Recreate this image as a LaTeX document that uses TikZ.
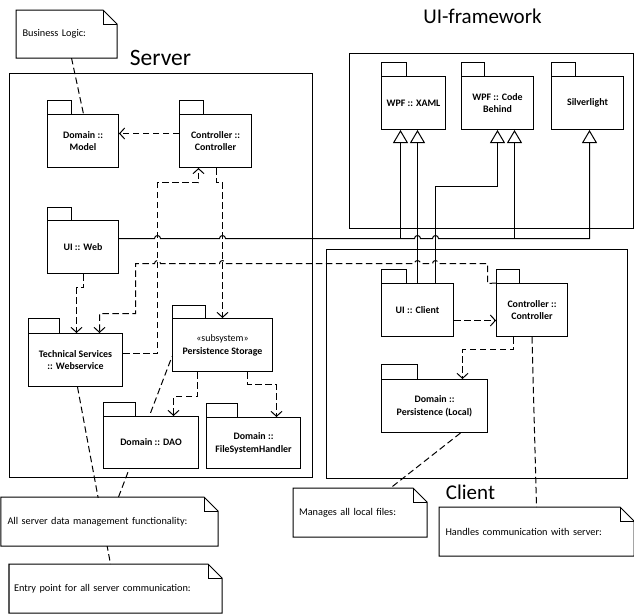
\documentclass[tikz,border=0pt]{standalone}
\usepackage{fontspec}
\setmainfont{Carlito}
\usetikzlibrary{arrows.meta,backgrounds,calc}
\newcommand\notedraw[1]{%
  \draw[noteline] (#1.north west) -- ([xshift=-14pt]#1.north east) -- ([yshift=-14pt]#1.north east) -- (#1.south east) -- (#1.south west) -- cycle;
  \draw[noteline] ([xshift=-14pt]#1.north east) |- ([yshift=-14pt]#1.north east);}
\begin{document}
\begin{tikzpicture}[x=1pt,y=-1pt,
  every path/.style={line width=1pt},
  pkg/.style={draw, fill=white, inner sep=0pt, align=center, font=\bfseries\fontsize{9.9}{12.8}\selectfont},
  tabbox/.style={draw, fill=white},
  frame/.style={draw, inner sep=0pt},
  title/.style={font=\fontsize{21}{24}\selectfont},
  note/.style={fill=white, inner sep=0pt, align=left, font=\fontsize{10.3}{12}\selectfont},
  noteline/.style={draw},
  dashline/.style={dash pattern=on 6.5pt off 3.5pt},
  dep/.style={dashline, -{Straight Barb[length=5pt,width=11pt]}},
  real/.style={-{Triangle[open,length=13pt,width=15pt]}},
]
\useasboundingbox (-0.5,-0.5) rectangle (633.5,612.5);

% frames
\node[frame, minimum width=303pt, minimum height=404pt] (server) at (160.5,275) {};
\node[title, font=\fontsize{23.5}{26}\selectfont] (servert) at (160,57) {Server};
\node[frame, minimum width=284pt, minimum height=175pt] (uif) at (491,140.5) {};
\node[title] (uift) at (482,16) {UI-framework};
\node[frame, minimum width=301pt, minimum height=229pt] (client) at (476.5,363.5) {};
\node[title] (clientt) at (470,492) {Client};

% server packages
\node[pkg, minimum width=71pt, minimum height=53pt] (model) at (82.5,140.5) {Domain ::\\Model};
\draw[tabbox] (model.north west) rectangle ++(24,-14);
\node[pkg, minimum width=72pt, minimum height=53pt] (sctrl) at (215,140.5) {Controller ::\\Controller};
\draw[tabbox] (sctrl.north west) rectangle ++(24,-14);
\node[pkg, minimum width=71pt, minimum height=53pt] (web) at (82.5,246.5) {UI :: Web};
\draw[tabbox] (web.north west) rectangle ++(24,-13);
\node[pkg, minimum width=94pt, minimum height=53pt] (ts) at (75,359.5) {Technical Services\\:: Webservice};
\draw[tabbox] (ts.north west) rectangle ++(31,-15);
\node[pkg, minimum width=100pt, minimum height=53pt] (ps) at (222,344.5) {{\mdseries «subsystem»}\\Persistence Storage};
\draw[tabbox] (ps.north west) rectangle ++(33,-13);
\node[pkg, minimum width=95pt, minimum height=52pt] (dao) at (150.5,442) {Domain :: DAO};
\draw[tabbox] (dao.north west) rectangle ++(32,-14);
\node[pkg, minimum width=94pt, minimum height=51pt] (fsh) at (253,442.5) {Domain ::\\FileSystemHandler};
\draw[tabbox] (fsh.north west) rectangle ++(31,-14);

% UI framework packages
\node[pkg, minimum width=64pt, minimum height=53pt] (xaml) at (413,102.5) {WPF :: XAML};
\draw[tabbox] (xaml.north west) rectangle ++(25,-14);
\node[pkg, minimum width=72pt, minimum height=53pt] (cb) at (497,102.5) {WPF :: Code\\Behind};
\draw[tabbox] (cb.north west) rectangle ++(23,-14);
\node[pkg, minimum width=72pt, minimum height=53pt] (sl) at (587,102.5) {Silverlight};
\draw[tabbox] (sl.north west) rectangle ++(24,-14);

% client packages
\node[pkg, minimum width=72pt, minimum height=53pt] (uic) at (417,309.5) {UI :: Client};
\draw[tabbox] (uic.north west) rectangle ++(25,-14);
\node[pkg, minimum width=71pt, minimum height=53pt] (cctrl) at (531.5,309.5) {Controller ::\\Controller};
\draw[tabbox] (cctrl.north west) rectangle ++(23,-14);
\node[pkg, minimum width=106pt, minimum height=53pt] (pers) at (434,405.5) {Domain ::\\Persistence (Local)};
\draw[tabbox] (pers.north west) rectangle ++(36,-15);

% notes
\node[note, minimum width=100pt, minimum height=47pt, text width=88pt] (biz) at (66,33.5) {Business Logic:};
\notedraw{biz}
\node[note, minimum width=216pt, minimum height=48pt, text width=204pt] (allnote) at (109,521) {All server data management functionality:};
\notedraw{allnote}
\node[note, minimum width=212pt, minimum height=48pt, text width=203pt] (entry) at (115,588) {Entry point for all server communication:};
\notedraw{entry}
\node[note, minimum width=133pt, minimum height=48pt, text width=122pt] (man) at (359.5,512) {Manages all local files:};
\notedraw{man}
\node[note, minimum width=194pt, minimum height=48pt, text width=182pt] (hand) at (536,531) {Handles communication with server:};
\notedraw{hand}

\begin{pgfonlayer}{background}
\fill[white] (-0.5,-0.5) rectangle (633.5,612.5);
% note anchors
\draw[dashline] ($(biz.south)+(5,0)$) -- ($(model.north)+(0.5,0)$);
\draw[dashline] ($(allnote.north)+(9,0)$) -- ($(ps.west)+(0,11.5)$);
\draw[dashline] ($(ts.south)+(2,0)$) -- ($(entry.north)+(-5,0)$);
\draw[dashline] ($(pers.south)+(26,0)$) -- ($(man.north)+(30.5,0)$);
\draw[dashline] (cctrl.south) -- (hand.north);
% server dependencies
\draw[dep] ($(sctrl.west)+(0,-7.5)$) -- ($(model.east)+(0,-7.5)$);
\draw[dep] ($(ts.east)+(0,-6.5)$) -- (157,353) -- (157,182) -- (198,182) -- ($(sctrl.south)+(-17,0)$);
\draw[dep] ($(sctrl.south)+(1,0)$) -- (216,182) -- (222,182) -- (ps.north);
\draw[dep] ($(web.south)+(0.5,0)$) -- (83,287) -- (76,287) -- ($(ts.north)+(1,0)$);
\draw[dep] ($(ps.south)+(-25,0)$) -- (197,396) -- (173,396) -- ($(dao.north)+(22.5,0)$);
\draw[dep] ($(ps.south)+(25,0)$) -- (247,384) -- (276,384) -- ($(fsh.north)+(23,0)$);
% client controller to webservice
\draw[dep] (cctrl.north west) -- (487,283) -- (487,263) -- (438,263) arc(0:180:3pt) -- (420,263) arc(0:180:3pt)
  -- (225,263) arc(0:180:3pt) -- (160,263) arc(0:180:3pt) -- (135,263) -- (135,313) -- (99,313) -- ($(ts.north)+(24,0)$);
% realizations
\draw[real] ($(web.east)+(0,-8.5)$) -- (154,238) arc(180:0:3pt) -- (219,238) arc(180:0:3pt)
  -- (414,238) arc(180:0:3pt) -- (432,238) arc(180:0:3pt) -- (589,238) -- ($(sl.south)+(2,0)$);
\draw[real] (400,238) -- ($(xaml.south)+(-13,0)$);
\draw[real] (514,238) -- ($(cb.south)+(17,0)$);
\draw[real] (uic.north) -- ($(xaml.south)+(4,0)$);
\draw[real] ($(uic.north)+(18,0)$) -- (435,186) -- (497,186) -- (cb.south);
% client dependencies
\draw[dep] ($(uic.east)+(0,10.5)$) -- ($(cctrl.west)+(0,10.5)$);
\draw[dep] ($(cctrl.south)+(-18.5,0)$) -- (513,349) -- (462,349) -- ($(pers.north)+(28,0)$);
\end{pgfonlayer}
\end{tikzpicture}
\end{document}
